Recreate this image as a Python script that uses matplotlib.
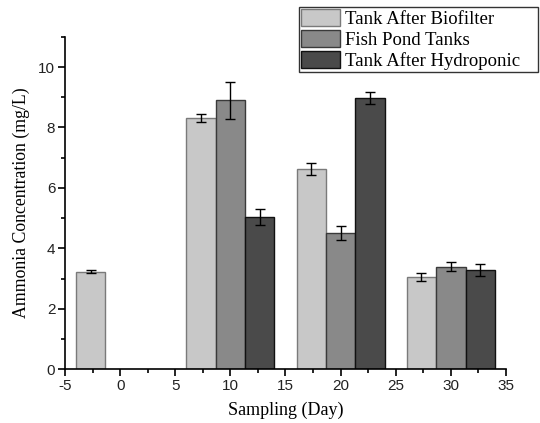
import numpy as np
import matplotlib
matplotlib.use('Agg')
import matplotlib.pyplot as plt
from matplotlib.ticker import MultipleLocator

plt.rcParams['axes.unicode_minus'] = False

# data
days = [0, 10, 20, 30]
biofilter = [3.22, 8.32, 6.63, 3.06]
biofilter_err = [0.05, 0.13, 0.20, 0.13]
fish_pond = [np.nan, 8.90, 4.51, 3.40]
fish_pond_err = [np.nan, 0.62, 0.22, 0.14]
hydroponic = [np.nan, 5.04, 8.97, 3.27]
hydroponic_err = [np.nan, 0.26, 0.20, 0.20]
labels = ['Tank After Biofilter', 'Fish Pond Tanks', 'Tank After Hydroponic']

w = 8 / 3.0
x = np.array(days, dtype=float)

fig = plt.figure(figsize=(5.4, 4.23), dpi=100)
ax = fig.add_axes([0.1204, 0.127, 0.937 - 0.1204, 0.913 - 0.127])

ax.bar(x - w, biofilter, w, color='#c8c8c8', edgecolor='#7a7a7a', linewidth=1.0,
       label=labels[0], zorder=2)
ax.bar(x, fish_pond, w, color='#898989', edgecolor='#3a3a3a', linewidth=1.0,
       label=labels[1], zorder=2)
ax.bar(x + w, hydroponic, w, color='#4a4a4a', edgecolor='#111111', linewidth=1.0,
       label=labels[2], zorder=2)

ax.errorbar(x - w, biofilter, yerr=biofilter_err, fmt='none', ecolor='black',
            elinewidth=1, capsize=3.5, capthick=1, zorder=3)
ax.errorbar(x, fish_pond, yerr=fish_pond_err, fmt='none', ecolor='black',
            elinewidth=1, capsize=3.5, capthick=1, zorder=3)
ax.errorbar(x + w, hydroponic, yerr=hydroponic_err, fmt='none', ecolor='black',
            elinewidth=1, capsize=3.5, capthick=1, zorder=3)

ax.set_xlim(-5, 35)
ax.set_ylim(0, 11)
ax.xaxis.set_major_locator(MultipleLocator(5))
ax.xaxis.set_minor_locator(MultipleLocator(2.5))
ax.yaxis.set_major_locator(MultipleLocator(2))
ax.yaxis.set_minor_locator(MultipleLocator(1))

ax.spines['top'].set_visible(False)
ax.spines['right'].set_visible(False)
ax.spines['left'].set_linewidth(1.2)
ax.spines['bottom'].set_linewidth(1.2)
ax.tick_params(which='major', direction='out', length=5, width=1.2,
               labelsize=11, labelcolor='#222222', pad=2)
ax.tick_params(which='minor', direction='out', length=3, width=1.2)
for t in ax.get_xticklabels() + ax.get_yticklabels():
    t.set_family('Liberation Sans')

ax.set_xlabel('Sampling (Day)', family='Liberation Serif', fontsize=13, labelpad=6)
ax.set_ylabel('Ammonia Concentration (mg/L)', family='Liberation Serif', fontsize=12.8, labelpad=6)

leg = fig.legend(loc='upper left', bbox_to_anchor=(299 / 540, 0, 239 / 540, 1 - 7 / 423),
                 mode='expand',
                 prop={'family': 'Liberation Serif', 'size': 13.5},
                 handlelength=2.1, handleheight=1.0, labelspacing=0.12,
                 handletextpad=0.27, borderpad=0.1, borderaxespad=0,
                 fancybox=False, frameon=True)
leg.get_frame().set_edgecolor('black')
leg.get_frame().set_linewidth(1.0)

fig.savefig('out.png', dpi=100)
